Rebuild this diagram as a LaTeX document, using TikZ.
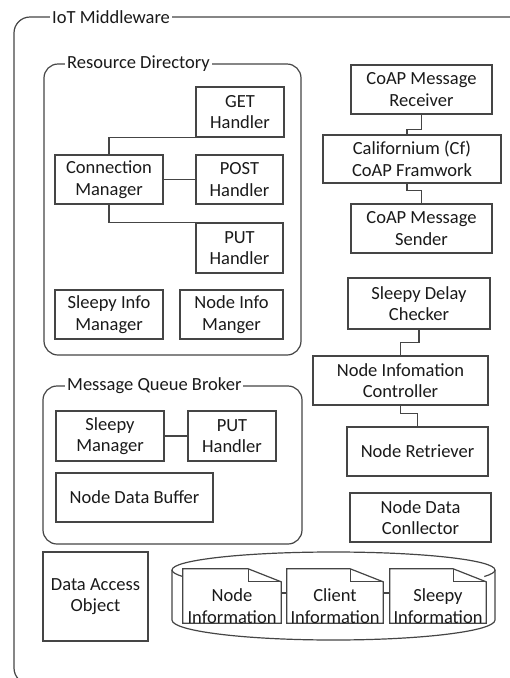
\documentclass[tikz,border=0pt]{standalone}
\usepackage{fontspec}
\setmainfont{Carlito}
\definecolor{linec}{HTML}{454545}
\definecolor{txtc}{HTML}{1A1A1A}
\begin{document}
\begin{tikzpicture}[x=1pt,y=-1pt,
  every node/.style={font=\fontsize{18.5}{21.5}\selectfont, text=txtc},
  box/.style={draw=linec, line width=1.2pt, fill=white, align=center, inner sep=0pt},
  doc/.style={inner sep=0pt, minimum width=#1, minimum height=54pt},
  doctxt/.style={align=center, inner sep=0pt},
  ttl/.style={fill=white, inner sep=2pt, anchor=west},
  frame/.style={draw=linec, line width=1.2pt, rounded corners=14pt},
  conn/.style={draw=linec, line width=1.2pt}]
\useasboundingbox (0,0) rectangle (510,678);
\clip (0,0) rectangle (510,678);

% outer frame
\draw[frame, rounded corners=16pt] (14,17) rectangle (545,684);
\node[ttl] (tOut) at (50,17) {IoT Middleware};

% Resource Directory
\draw[frame] (44,64) rectangle (301,355);
\node[ttl] (tRD) at (65,64) {Resource Directory};
\node[box, minimum width=88pt, minimum height=50pt] (get) at (240,112) {GET\\Handler};
\node[box, minimum width=108pt, minimum height=49pt] (cm) at (109,179.5) {Connection\\Manager};
\node[box, minimum width=87pt, minimum height=49pt] (post) at (239.5,179.5) {POST\\Handler};
\node[box, minimum width=87pt, minimum height=50pt] (put) at (239.5,248) {PUT\\Handler};
\node[box, minimum width=108pt, minimum height=49pt] (sim) at (109,314.5) {Sleepy Info\\Manager};
\node[box, minimum width=103pt, minimum height=49pt] (nim) at (231.5,314.5) {Node Info\\Manger};
\draw[conn] (cm.north) |- (get.south);
\draw[conn] (cm.east) -- (post.west);
\draw[conn] (cm.south) |- (put.north);

% right column
\node[box, minimum width=141pt, minimum height=49pt] (rcv) at (421.5,89.5) {CoAP Message\\Receiver};
\node[box, minimum width=178pt, minimum height=48pt] (cf) at (412,159) {Californium (Cf)\\CoAP Framwork};
\node[box, minimum width=141pt, minimum height=49pt] (snd) at (421.5,228.5) {CoAP Message\\Sender};
\node[box, minimum width=142pt, minimum height=51pt] (sdc) at (419,303.5) {Sleepy Delay\\Checker};
\node[box, minimum width=175pt, minimum height=49pt] (nic) at (400.5,380.5) {Node Infomation\\Controller};
\node[box, minimum width=141pt, minimum height=49pt] (nr) at (417.5,451.5) {Node Retriever};
\node[box, minimum width=141pt, minimum height=49pt] (ndc) at (420.5,517.5) {Node Data\\Conllector};
\draw[conn] (rcv.south) -- ++(0,15) -| ([xshift=-5pt]cf.north);
\draw[conn] ([xshift=-5pt]cf.south) -- ++(0,7) -| (snd.north);
\draw[conn] (sdc.south) -- ++(0,13) -| (nic.north);
\draw[conn] (nic.south) -- ++(0,8) -| (nr.north);

% Message Queue Broker
\draw[frame] (43,386) rectangle (302,544);
\node[ttl] (tMQ) at (65,386) {Message Queue Broker};
\node[box, minimum width=108pt, minimum height=50pt] (sm) at (110,436) {Sleepy\\Manager};
\node[box, minimum width=88pt, minimum height=50pt] (put2) at (232,436) {PUT\\Handler};
\node[box, minimum width=157pt, minimum height=49pt] (ndb) at (134.5,497.5) {Node Data Buffer};
\draw[conn] (sm.east) -- (put2.west);

% Data Access Object
\node[box, minimum width=105pt, minimum height=89pt] (dao) at (95.5,596.5) {Data Access\\Object};

% storage cylinder
\draw[conn] (172,570) arc[start angle=180, end angle=0, x radius=161.5pt, y radius=18pt]
  -- (495,620) arc[start angle=360, end angle=180, x radius=161.5pt, y radius=20pt] -- cycle;
\draw[conn] (172,570) arc[start angle=180, end angle=202, x radius=161.5pt, y radius=18pt];
\draw[conn] (495,570) arc[start angle=360, end angle=339, x radius=161.5pt, y radius=18pt];

% documents
\node[doc=98pt] (d1) at (232,596) {};
\node[doc=96pt] (d2) at (335,596) {};
\node[doc=96pt] (d3) at (438,596) {};
\foreach \d in {d1,d2,d3}{
  \draw[conn, fill=white] (\d.north west) -- ([xshift=-33pt]\d.north east) -- ([yshift=-13pt]\d.north east)
     -- (\d.south east) -- (\d.south west) -- cycle;
  \draw[conn] ([xshift=-33pt]\d.north east) -- ++(0,13) -- ([yshift=-13pt]\d.north east);
}
\node[doctxt] (d1t) at (232,606) {Node\\Information};
\node[doctxt] (d2t) at (335,606) {Client\\Information};
\node[doctxt] (d3t) at (438,606) {Sleepy\\Information};
\draw[conn] ([yshift=3pt]d1.east) -- ([yshift=3pt]d2.west);
\draw[conn] ([yshift=3pt]d2.east) -- ([yshift=3pt]d3.west);
\end{tikzpicture}
\end{document}
